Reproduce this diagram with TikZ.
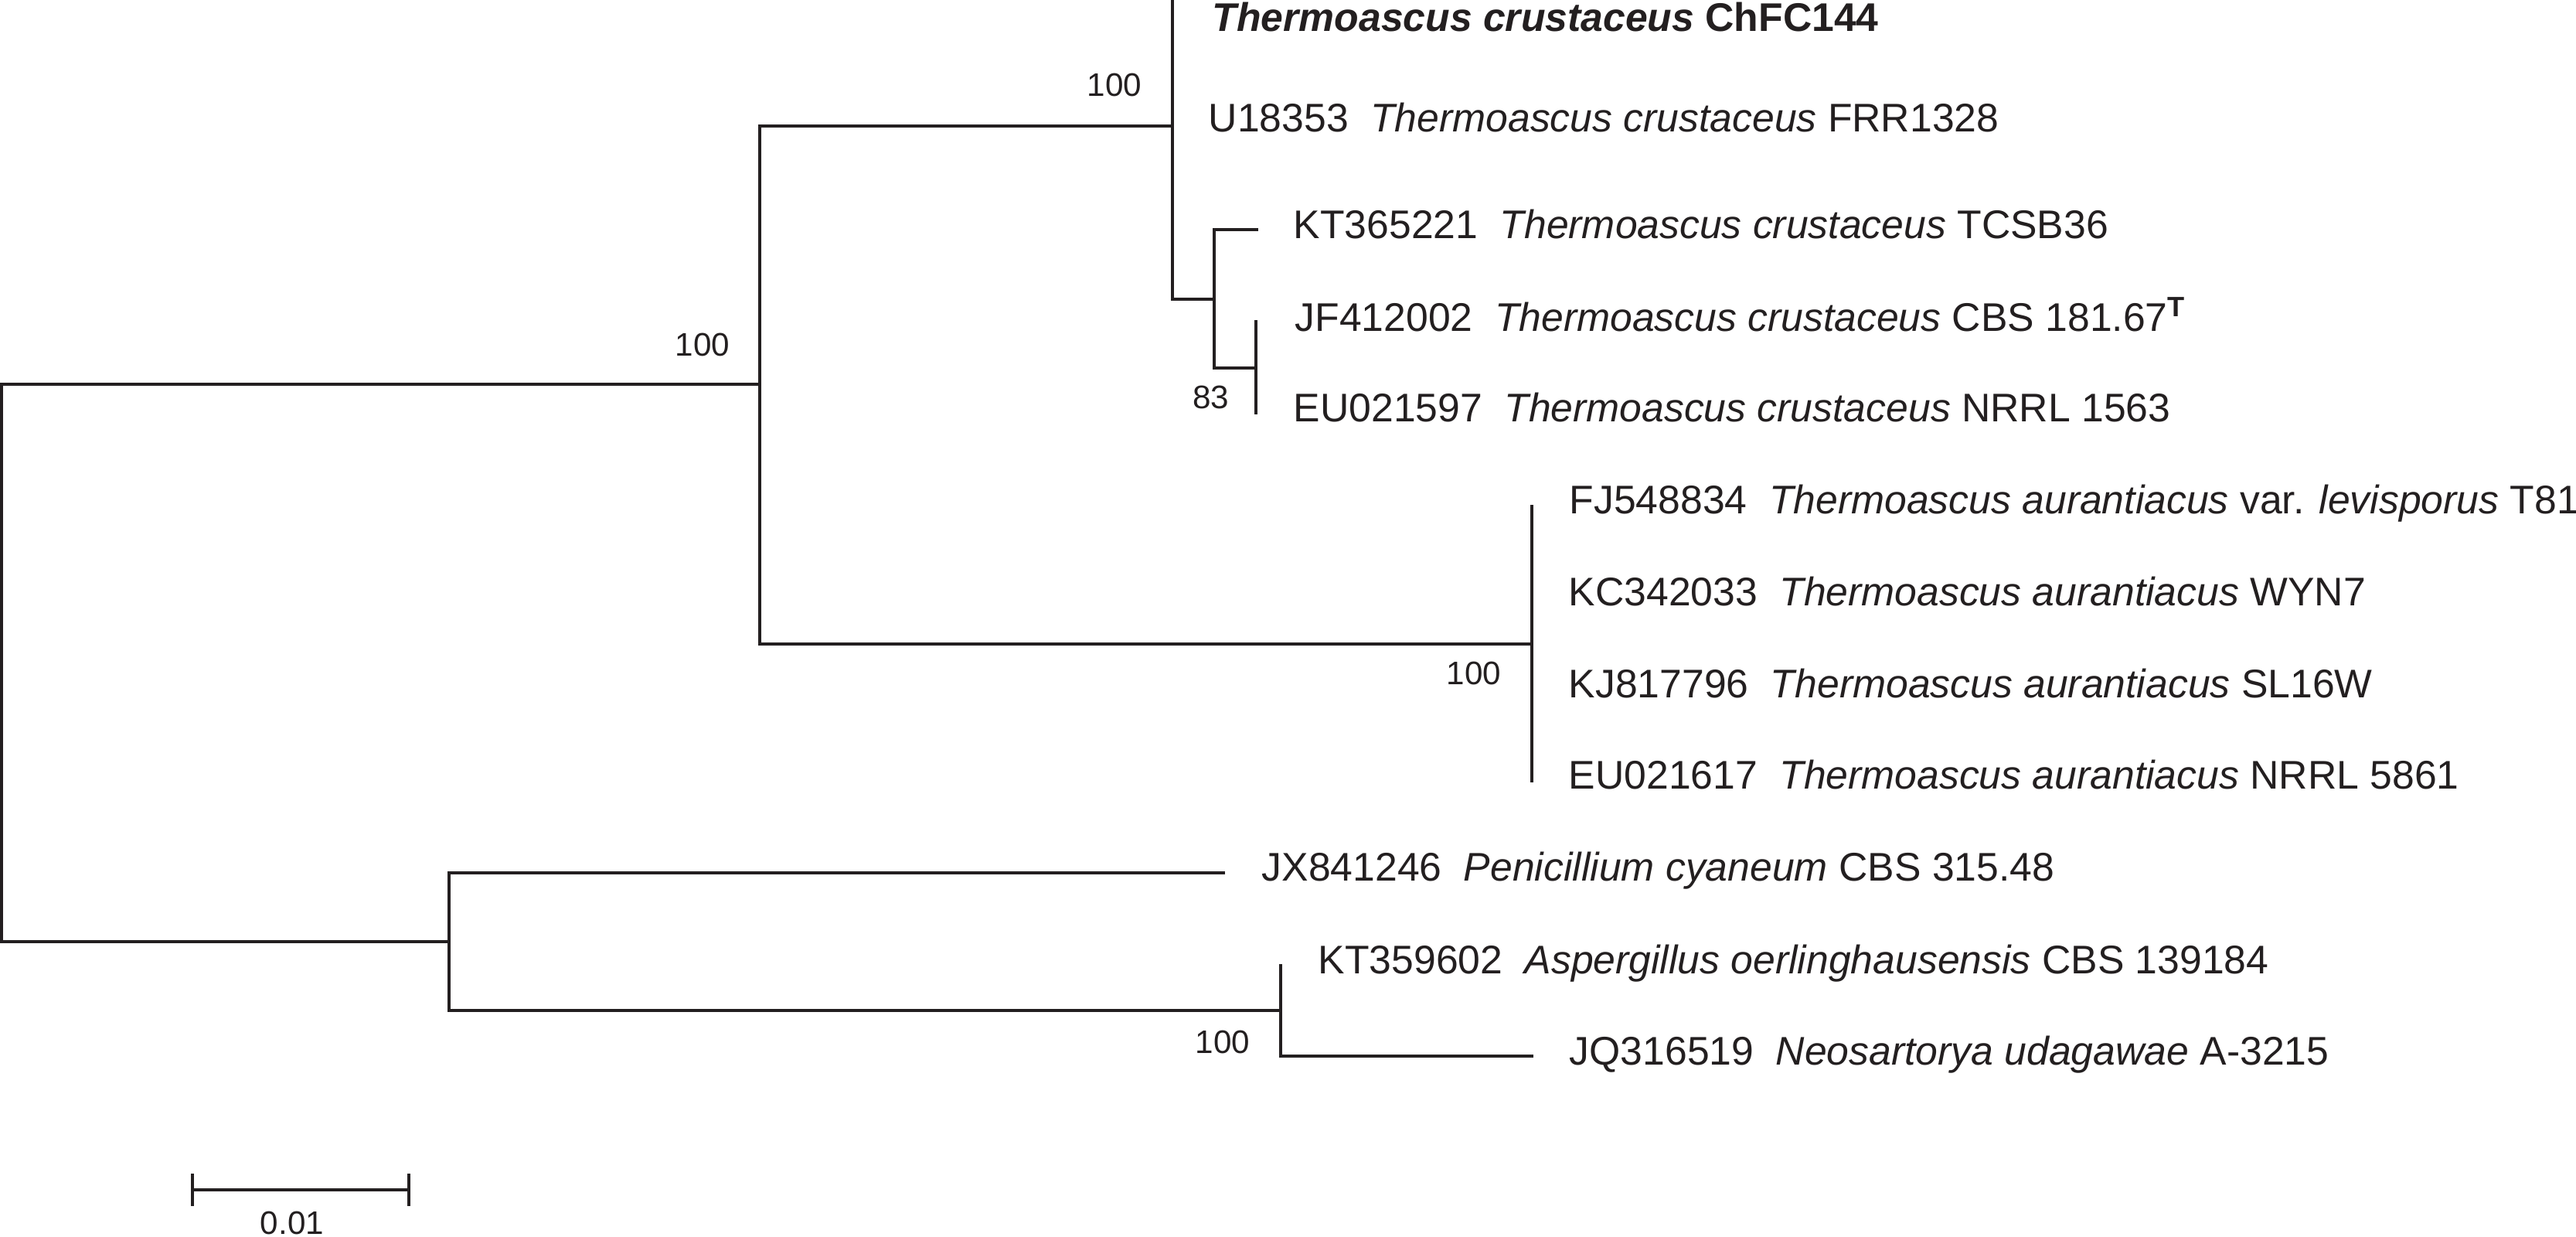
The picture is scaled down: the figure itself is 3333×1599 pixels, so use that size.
\documentclass[tikz,border=0pt]{standalone}
\usepackage{fontspec}
\setmainfont{Liberation Sans}
\usepackage{xcolor}
\definecolor{ink}{HTML}{231F20}
\tikzset{
  brch/.style={draw=ink, line width=1.15pt},
  taxn/.style={anchor=base west, inner sep=0pt, text=ink, font=\fontsize{14.7}{18}\selectfont},
  bootn/.style={anchor=base east, inner sep=0pt, text=ink, font=\fontsize{12}{14}\selectfont},
}
\newcommand{\acgap}{\hspace{0.55em}}
\newcommand{\Tcru}{\textit{Thermoascus crustaceus}}
\newcommand{\Taur}{\textit{Thermoascus aurantiacus}}

\begin{document}
\begin{tikzpicture}[x=0.01cm, y=-0.01cm]
\useasboundingbox (0,0) rectangle (3333,1599);
% internal nodes
\coordinate (root) at (2,857);
\coordinate (thr) at (983,497);
\coordinate (cru) at (1517,163);
\coordinate (cruB) at (1571,387);
\coordinate (cruC) at (1625,476);
\coordinate (aur) at (1982,833);
\coordinate (out) at (581,1218);
\coordinate (asp) at (1657,1307);
% leaves
\coordinate (ch) at (1517,0);
\coordinate (u18) at (1517,158);
\coordinate (kt36) at (1628,297);
\coordinate (jf41) at (1625,414);
\coordinate (eu15) at (1625,536);
\coordinate (fj54) at (1982,653);
\coordinate (eu58) at (1982,1012);
\coordinate (jx84) at (1585,1129);
\coordinate (kt35) at (1657,1247);
\coordinate (jq31) at (1984,1366);
% branches
\draw[brch] (thr) -| (root) |- (out);
\draw[brch] (cru) -| (thr) |- (aur);
\draw[brch] (ch) -- (cru) |- (cruB);
\draw[brch] (kt36) -| (cruB) |- (cruC);
\draw[brch] (jf41) -- (eu15);
\draw[brch] (fj54) -- (eu58);
\draw[brch] (jx84) -| (out) |- (asp);
\draw[brch] (kt35) -- (asp) |- (jq31);
% taxa
\node[taxn, font=\fontsize{14.7}{18}\selectfont\bfseries] (tch) at (1568,40) {\Tcru{} ChFC144};
\node[taxn] (tu18) at (1563,170) {U18353\acgap\Tcru{} FRR1328};
\node[taxn] (tkt36) at (1673,308) {KT365221\acgap\Tcru{} TCSB36};
\node[taxn] (tjf41) at (1675,428) {JF412002\acgap\Tcru{} CBS 181.67\textsuperscript{\textbf{T}}};
\node[taxn] (teu15) at (1673,545) {EU021597\acgap\Tcru{} NRRL 1563};
\node[taxn] (tfj54) at (2030,664) {FJ548834\acgap\Taur{} var. \textit{levisporus} T81};
\node[taxn] (tkc34) at (2029,783) {KC342033\acgap\Taur{} WYN7};
\node[taxn] (tkj81) at (2029,902) {KJ817796\acgap\Taur{} SL16W};
\node[taxn] (teu58) at (2029,1020) {EU021617\acgap\Taur{} NRRL 5861};
\node[taxn] (tjx84) at (1632,1139) {JX841246\acgap\textit{Penicillium cyaneum} CBS 315.48};
\node[taxn] (tkt35) at (1705,1259) {KT359602\acgap\textit{Aspergillus oerlinghausensis} CBS 139184};
\node[taxn] (tjq31) at (2030,1377) {JQ316519\acgap\textit{Neosartorya udagawae} A-3215};
% bootstrap
\node[bootn] (bthr) at (945,460) {100};
\node[bootn] (bcru) at (1478,124) {100};
\node[bootn] (bcruC) at (1591,528) {83};
\node[bootn] (baur) at (1943,885) {100};
\node[bootn] (basp) at (1618,1362) {100};
% scale bar
\coordinate (sb1) at (249,1539);
\coordinate (sb2) at (529,1539);
\draw[brch] (sb1) -- (sb2);
\draw[brch] (sb1) ++(0,-21) -- ++(0,42);
\draw[brch] (sb2) ++(0,-21) -- ++(0,42);
\node[bootn, anchor=base] (sbl) at (378,1596) {0.01};
\end{tikzpicture}
\end{document}
